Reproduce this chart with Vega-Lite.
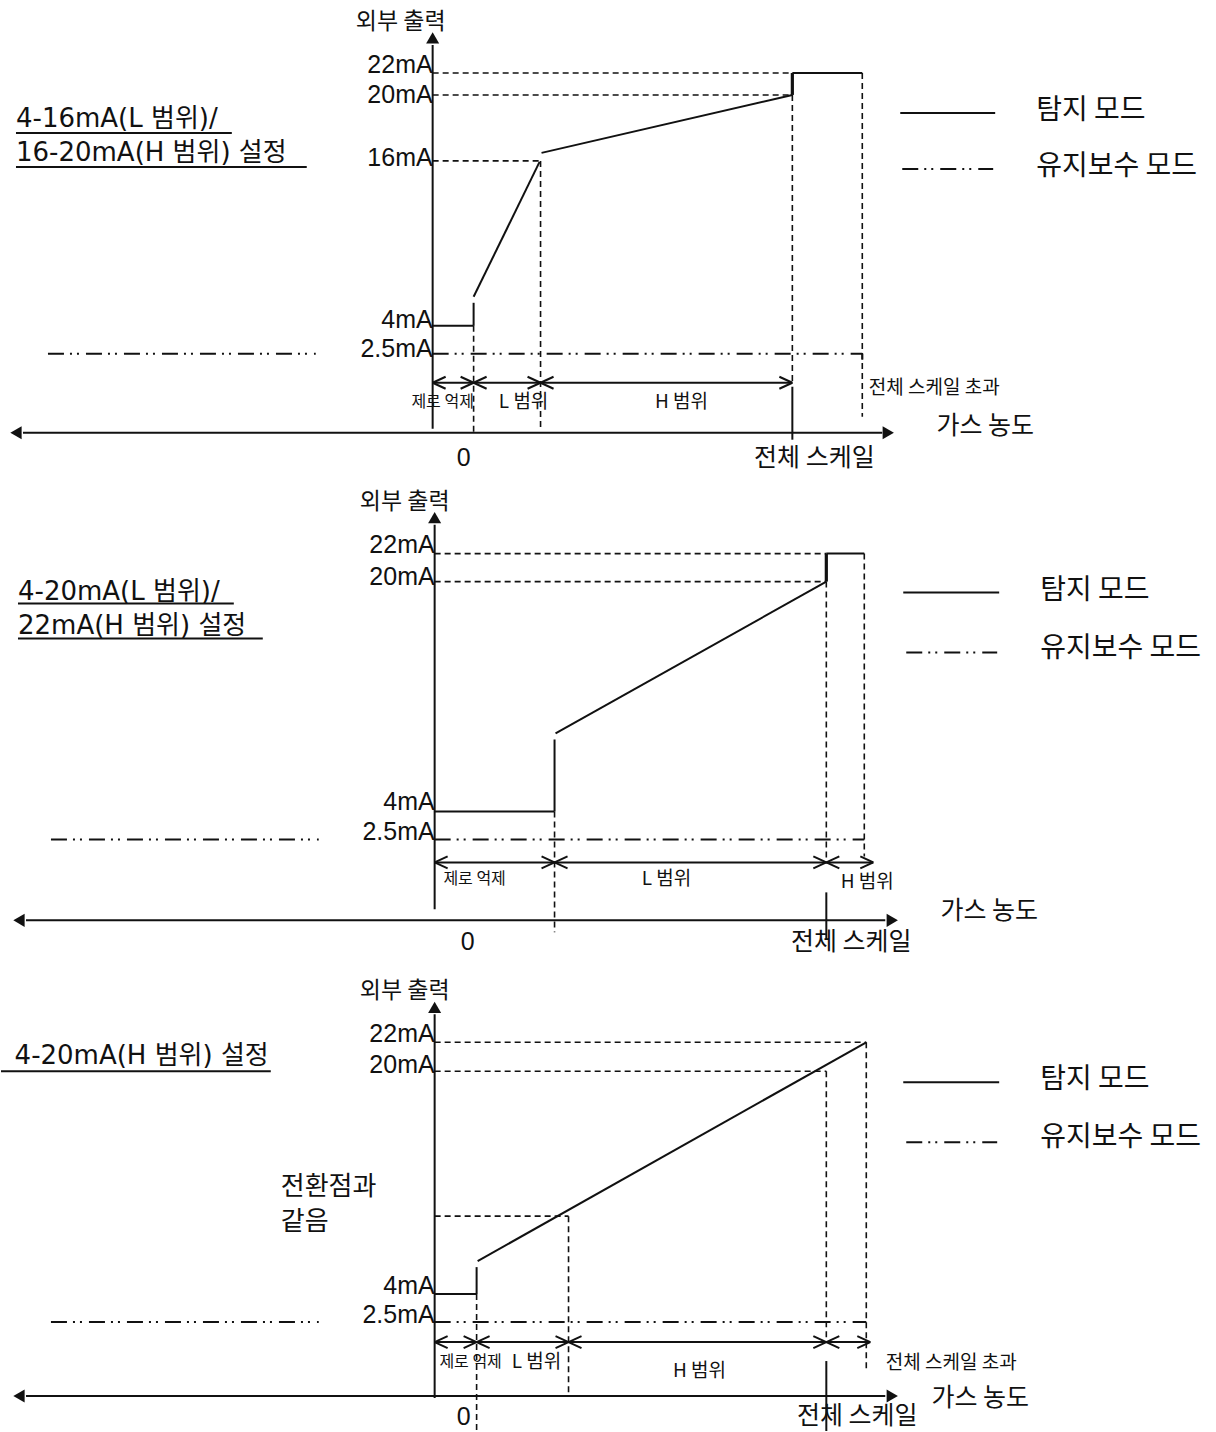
{
  "$schema": "https://vega.github.io/schema/vega-lite/v6.json",
  "width": 1216,
  "height": 1432,
  "padding": 0,
  "autosize": {"type": "fit", "contains": "padding"},
  "background": "white",
  "config": {"view": {"stroke": null}, "text": {"font": "Noto Sans CJK KR", "color": "#111"}},
  "datasets": {
    "segs": [
      {"x":432,"y":45,"x2":432,"y2":429,"kind":"axis"},
      {"x":22,"y":433,"x2":882,"y2":433,"kind":"axis"},
      {"x":432,"y":326,"x2":473,"y2":326,"kind":"detect"},
      {"x":473,"y":303,"x2":473,"y2":326,"kind":"detect"},
      {"x":473,"y":297,"x2":539,"y2":162,"kind":"detect"},
      {"x":541,"y":153,"x2":792,"y2":95,"kind":"detect"},
      {"x":792,"y":73,"x2":862,"y2":73,"kind":"detect"},
      {"x":792,"y":387,"x2":792,"y2":440,"kind":"detect"},
      {"x":792,"y":95,"x2":792,"y2":73,"kind":"step"},
      {"x":432,"y":73,"x2":792,"y2":73,"kind":"guide"},
      {"x":432,"y":95,"x2":792,"y2":95,"kind":"guide"},
      {"x":432,"y":161,"x2":539,"y2":161,"kind":"guide"},
      {"x":540,"y":161,"x2":540,"y2":430,"kind":"guide"},
      {"x":473,"y":326,"x2":473,"y2":433,"kind":"guide"},
      {"x":792,"y":95,"x2":792,"y2":383,"kind":"guide"},
      {"x":862,"y":73,"x2":862,"y2":417,"kind":"guide"},
      {"x":47,"y":354,"x2":315,"y2":354,"kind":"maint"},
      {"x":432,"y":354,"x2":862,"y2":354,"kind":"maint"},
      {"x":862,"y":354,"x2":862,"y2":360,"kind":"detect"},
      {"x":432,"y":383,"x2":792,"y2":383,"kind":"dim"},
      {"x":432,"y":383,"x2":445,"y2":377,"kind":"dim"},
      {"x":432,"y":383,"x2":445,"y2":389,"kind":"dim"},
      {"x":460,"y":377,"x2":486,"y2":389,"kind":"dim"},
      {"x":460,"y":389,"x2":486,"y2":377,"kind":"dim"},
      {"x":527,"y":377,"x2":553,"y2":389,"kind":"dim"},
      {"x":527,"y":389,"x2":553,"y2":377,"kind":"dim"},
      {"x":779,"y":377,"x2":792,"y2":383,"kind":"dim"},
      {"x":779,"y":389,"x2":792,"y2":383,"kind":"dim"},
      {"x":15,"y":133,"x2":231,"y2":133,"kind":"dim"},
      {"x":15,"y":167,"x2":306,"y2":167,"kind":"dim"},
      {"x":900,"y":113,"x2":995,"y2":113,"kind":"detect"},
      {"x":902,"y":169,"x2":993,"y2":169,"kind":"maint"},

      {"x":434,"y":525,"x2":434,"y2":910,"kind":"axis"},
      {"x":25,"y":921,"x2":885,"y2":921,"kind":"axis"},
      {"x":434,"y":812,"x2":554,"y2":812,"kind":"detect"},
      {"x":554,"y":740,"x2":554,"y2":812,"kind":"detect"},
      {"x":555,"y":734,"x2":826,"y2":582,"kind":"detect"},
      {"x":826,"y":554,"x2":864,"y2":554,"kind":"detect"},
      {"x":826,"y":893,"x2":826,"y2":940,"kind":"detect"},
      {"x":826,"y":582,"x2":826,"y2":554,"kind":"step"},
      {"x":434,"y":554,"x2":826,"y2":554,"kind":"guide"},
      {"x":434,"y":582,"x2":826,"y2":582,"kind":"guide"},
      {"x":554,"y":812,"x2":554,"y2":933,"kind":"guide"},
      {"x":826,"y":582,"x2":826,"y2":860,"kind":"guide"},
      {"x":864,"y":554,"x2":864,"y2":857,"kind":"guide"},
      {"x":50,"y":840,"x2":318,"y2":840,"kind":"maint"},
      {"x":434,"y":840,"x2":864,"y2":840,"kind":"maint"},
      {"x":434,"y":863,"x2":873,"y2":863,"kind":"dim"},
      {"x":434,"y":863,"x2":447,"y2":857,"kind":"dim"},
      {"x":434,"y":863,"x2":447,"y2":869,"kind":"dim"},
      {"x":541,"y":857,"x2":567,"y2":869,"kind":"dim"},
      {"x":541,"y":869,"x2":567,"y2":857,"kind":"dim"},
      {"x":813,"y":857,"x2":839,"y2":869,"kind":"dim"},
      {"x":813,"y":869,"x2":839,"y2":857,"kind":"dim"},
      {"x":860,"y":857,"x2":873,"y2":863,"kind":"dim"},
      {"x":860,"y":869,"x2":873,"y2":863,"kind":"dim"},
      {"x":17,"y":604,"x2":233,"y2":604,"kind":"dim"},
      {"x":17,"y":639,"x2":262,"y2":639,"kind":"dim"},
      {"x":903,"y":593,"x2":999,"y2":593,"kind":"detect"},
      {"x":906,"y":653,"x2":997,"y2":653,"kind":"maint"},

      {"x":434,"y":1015,"x2":434,"y2":1399,"kind":"axis"},
      {"x":25,"y":1397,"x2":885,"y2":1397,"kind":"axis"},
      {"x":434,"y":1295,"x2":476,"y2":1295,"kind":"detect"},
      {"x":476,"y":1268,"x2":476,"y2":1295,"kind":"detect"},
      {"x":477,"y":1262,"x2":866,"y2":1043,"kind":"detect"},
      {"x":826,"y":1362,"x2":826,"y2":1432,"kind":"detect"},
      {"x":434,"y":1043,"x2":866,"y2":1043,"kind":"guide"},
      {"x":434,"y":1072,"x2":826,"y2":1072,"kind":"guide"},
      {"x":434,"y":1217,"x2":568,"y2":1217,"kind":"guide"},
      {"x":568,"y":1217,"x2":568,"y2":1395,"kind":"guide"},
      {"x":476,"y":1295,"x2":476,"y2":1432,"kind":"guide"},
      {"x":826,"y":1072,"x2":826,"y2":1343,"kind":"guide"},
      {"x":866,"y":1043,"x2":866,"y2":1373,"kind":"guide"},
      {"x":50,"y":1323,"x2":318,"y2":1323,"kind":"maint"},
      {"x":434,"y":1323,"x2":866,"y2":1323,"kind":"maint"},
      {"x":434,"y":1343,"x2":870,"y2":1343,"kind":"dim"},
      {"x":434,"y":1343,"x2":447,"y2":1337,"kind":"dim"},
      {"x":434,"y":1343,"x2":447,"y2":1349,"kind":"dim"},
      {"x":463,"y":1337,"x2":489,"y2":1349,"kind":"dim"},
      {"x":463,"y":1349,"x2":489,"y2":1337,"kind":"dim"},
      {"x":555,"y":1337,"x2":581,"y2":1349,"kind":"dim"},
      {"x":555,"y":1349,"x2":581,"y2":1337,"kind":"dim"},
      {"x":813,"y":1337,"x2":839,"y2":1349,"kind":"dim"},
      {"x":813,"y":1349,"x2":839,"y2":1337,"kind":"dim"},
      {"x":857,"y":1337,"x2":870,"y2":1343,"kind":"dim"},
      {"x":857,"y":1349,"x2":870,"y2":1343,"kind":"dim"},
      {"x":0,"y":1072,"x2":270,"y2":1072,"kind":"dim"},
      {"x":903,"y":1083,"x2":999,"y2":1083,"kind":"detect"},
      {"x":906,"y":1143,"x2":997,"y2":1143,"kind":"maint"}
    ],
    "arrows": [
      {"x":432,"y":38,"dir":"up"},
      {"x":15,"y":433,"dir":"left"},
      {"x":888,"y":433,"dir":"right"},
      {"x":434,"y":518,"dir":"up"},
      {"x":18,"y":921,"dir":"left"},
      {"x":892,"y":921,"dir":"right"},
      {"x":434,"y":1008,"dir":"up"},
      {"x":18,"y":1397,"dir":"left"},
      {"x":892,"y":1397,"dir":"right"}
    ],
    "labels": [
      {"x":400,"y":22,"text":"외부 출력","role":"axisname"},
      {"x":432,"y":65,"text":"22mA","role":"tick"},
      {"x":432,"y":95,"text":"20mA","role":"tick"},
      {"x":432,"y":158,"text":"16mA","role":"tick"},
      {"x":432,"y":320,"text":"4mA","role":"tick"},
      {"x":432,"y":349,"text":"2.5mA","role":"tick"},
      {"x":15,"y":119,"text":"4-16mA(L 범위)/","role":"title"},
      {"x":15,"y":153,"text":"16-20mA(H 범위) 설정","role":"title"},
      {"x":442,"y":402,"text":"제로 억제","role":"small"},
      {"x":523,"y":402,"text":"L 범위","role":"range"},
      {"x":681,"y":402,"text":"H 범위","role":"range"},
      {"x":934,"y":388,"text":"전체 스케일 초과","role":"range"},
      {"x":985,"y":426,"text":"가스 농도","role":"big"},
      {"x":814,"y":458,"text":"전체 스케일","role":"big"},
      {"x":463,"y":458,"text":"0","role":"zero"},
      {"x":1036,"y":111,"text":"탐지 모드","role":"legend"},
      {"x":1036,"y":167,"text":"유지보수 모드","role":"legend"},

      {"x":404,"y":502,"text":"외부 출력","role":"axisname"},
      {"x":434,"y":545,"text":"22mA","role":"tick"},
      {"x":434,"y":577,"text":"20mA","role":"tick"},
      {"x":434,"y":803,"text":"4mA","role":"tick"},
      {"x":434,"y":833,"text":"2.5mA","role":"tick"},
      {"x":17,"y":592,"text":"4-20mA(L 범위)/","role":"title"},
      {"x":17,"y":626,"text":"22mA(H 범위) 설정","role":"title"},
      {"x":474,"y":880,"text":"제로 억제","role":"small"},
      {"x":666,"y":880,"text":"L 범위","role":"range"},
      {"x":867,"y":883,"text":"H 범위","role":"range"},
      {"x":989,"y":912,"text":"가스 농도","role":"big"},
      {"x":851,"y":943,"text":"전체 스케일","role":"big"},
      {"x":467,"y":943,"text":"0","role":"zero"},
      {"x":1040,"y":591,"text":"탐지 모드","role":"legend"},
      {"x":1040,"y":649,"text":"유지보수 모드","role":"legend"},

      {"x":404,"y":992,"text":"외부 출력","role":"axisname"},
      {"x":434,"y":1035,"text":"22mA","role":"tick"},
      {"x":434,"y":1066,"text":"20mA","role":"tick"},
      {"x":434,"y":1287,"text":"4mA","role":"tick"},
      {"x":434,"y":1316,"text":"2.5mA","role":"tick"},
      {"x":268,"y":1057,"text":"4-20mA(H 범위) 설정","role":"titleR"},
      {"x":280,"y":1188,"text":"전환점과","role":"note"},
      {"x":280,"y":1223,"text":"같음","role":"note"},
      {"x":470,"y":1363,"text":"제로 억제","role":"small"},
      {"x":536,"y":1363,"text":"L 범위","role":"range"},
      {"x":699,"y":1372,"text":"H 범위","role":"range"},
      {"x":951,"y":1364,"text":"전체 스케일 초과","role":"range"},
      {"x":980,"y":1399,"text":"가스 농도","role":"big"},
      {"x":857,"y":1417,"text":"전체 스케일","role":"big"},
      {"x":463,"y":1418,"text":"0","role":"zero"},
      {"x":1040,"y":1081,"text":"탐지 모드","role":"legend"},
      {"x":1040,"y":1139,"text":"유지보수 모드","role":"legend"}
    ]
  },
  "encoding": {
    "x": {"field": "x", "type": "quantitative", "axis": null, "scale": {"domain": [0, 1216], "nice": false, "zero": false}},
    "y": {"field": "y", "type": "quantitative", "axis": null, "scale": {"domain": [0, 1432], "nice": false, "zero": false, "reverse": true}}
  },
  "layer": [
    {
      "data": {"name": "segs"},
      "transform": [{"filter": "datum.kind === 'axis' || datum.kind === 'detect' || datum.kind === 'dim'"}],
      "mark": {"type": "rule", "color": "#111", "strokeWidth": 2},
      "encoding": {"x2": {"field": "x2"}, "y2": {"field": "y2"}}
    },
    {
      "data": {"name": "segs"},
      "transform": [{"filter": "datum.kind === 'step'"}],
      "mark": {"type": "rule", "color": "#111", "strokeWidth": 3.2},
      "encoding": {"x2": {"field": "x2"}, "y2": {"field": "y2"}}
    },
    {
      "data": {"name": "segs"},
      "transform": [{"filter": "datum.kind === 'guide'"}],
      "mark": {"type": "rule", "color": "#111", "strokeWidth": 1.6, "strokeDash": [6, 4]},
      "encoding": {"x2": {"field": "x2"}, "y2": {"field": "y2"}}
    },
    {
      "data": {"name": "segs"},
      "transform": [{"filter": "datum.kind === 'maint'"}],
      "mark": {"type": "rule", "color": "#111", "strokeWidth": 2, "strokeDash": [16, 6, 2, 5, 2, 7]},
      "encoding": {"x2": {"field": "x2"}, "y2": {"field": "y2"}}
    },
    {
      "data": {"name": "arrows"},
      "mark": {"type": "point", "filled": true, "color": "#111", "size": 170, "opacity": 1},
      "encoding": {
        "shape": {"field": "dir", "type": "nominal", "legend": null,
          "scale": {"domain": ["up", "left", "right"], "range": ["triangle-up", "triangle-left", "triangle-right"]}}
      }
    },
    {
      "data": {"name": "labels"},
      "transform": [{"filter": "datum.role === 'axisname'"}],
      "mark": {"type": "text", "fontSize": 23, "align": "center", "baseline": "middle"},
      "encoding": {"text": {"field": "text"}}
    },
    {
      "data": {"name": "labels"},
      "transform": [{"filter": "datum.role === 'tick'"}],
      "mark": {"type": "text", "fontSize": 25, "font": "Liberation Sans", "align": "right", "baseline": "middle"},
      "encoding": {"text": {"field": "text"}}
    },
    {
      "data": {"name": "labels"},
      "transform": [{"filter": "datum.role === 'title'"}],
      "mark": {"type": "text", "fontSize": 26, "font": "DejaVu Sans, Noto Sans CJK KR", "align": "left", "baseline": "middle"},
      "encoding": {"text": {"field": "text"}}
    },
    {
      "data": {"name": "labels"},
      "transform": [{"filter": "datum.role === 'titleR'"}],
      "mark": {"type": "text", "fontSize": 26, "font": "DejaVu Sans, Noto Sans CJK KR", "align": "right", "baseline": "middle"},
      "encoding": {"text": {"field": "text"}}
    },
    {
      "data": {"name": "labels"},
      "transform": [{"filter": "datum.role === 'note'"}],
      "mark": {"type": "text", "fontSize": 26, "align": "left", "baseline": "middle"},
      "encoding": {"text": {"field": "text"}}
    },
    {
      "data": {"name": "labels"},
      "transform": [{"filter": "datum.role === 'small'"}],
      "mark": {"type": "text", "fontSize": 16, "align": "center", "baseline": "middle"},
      "encoding": {"text": {"field": "text"}}
    },
    {
      "data": {"name": "labels"},
      "transform": [{"filter": "datum.role === 'range'"}],
      "mark": {"type": "text", "fontSize": 19, "align": "center", "baseline": "middle"},
      "encoding": {"text": {"field": "text"}}
    },
    {
      "data": {"name": "labels"},
      "transform": [{"filter": "datum.role === 'big'"}],
      "mark": {"type": "text", "fontSize": 25, "align": "center", "baseline": "middle"},
      "encoding": {"text": {"field": "text"}}
    },
    {
      "data": {"name": "labels"},
      "transform": [{"filter": "datum.role === 'zero'"}],
      "mark": {"type": "text", "fontSize": 25, "font": "Liberation Sans", "align": "center", "baseline": "middle"},
      "encoding": {"text": {"field": "text"}}
    },
    {
      "data": {"name": "labels"},
      "transform": [{"filter": "datum.role === 'legend'"}],
      "mark": {"type": "text", "fontSize": 28, "align": "left", "baseline": "middle"},
      "encoding": {"text": {"field": "text"}}
    }
  ]
}
